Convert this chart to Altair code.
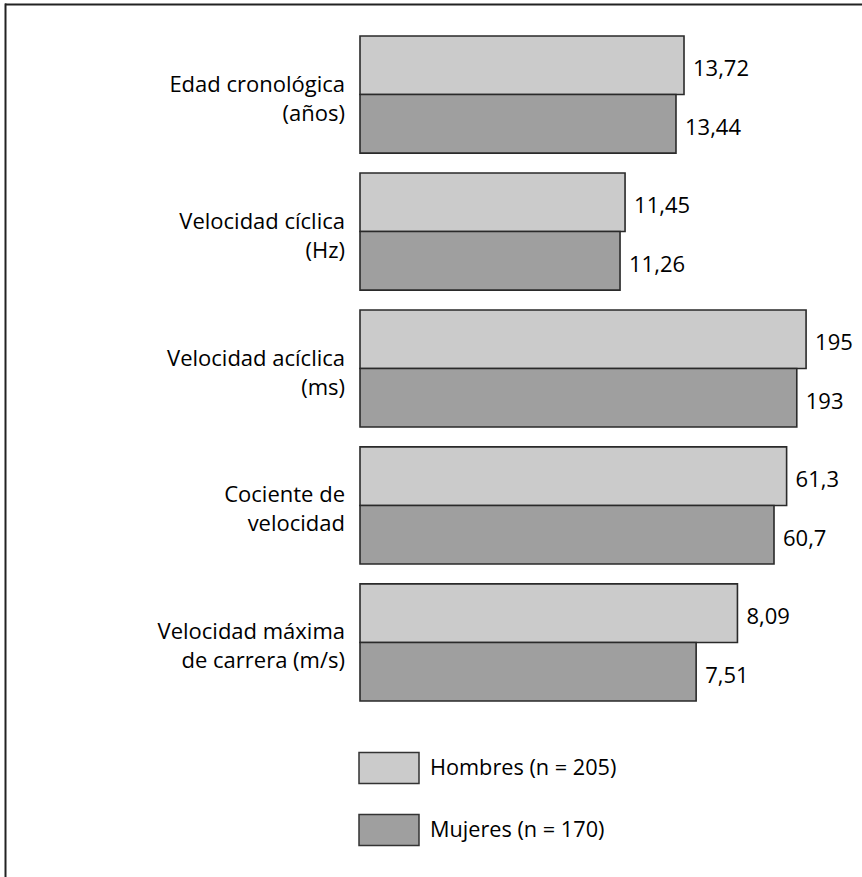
import altair as alt
import pandas as pd

# Measures compared between boys and girls
categories = [
    "Edad cronológica\n(años)",
    "Velocidad cíclica\n(Hz)",
    "Velocidad acíclica\n(ms)",
    "Cociente de\nvelocidad",
    "Velocidad máxima\nde carrera (m/s)",
]
series = ["Hombres (n = 205)", "Mujeres (n = 170)"]
hombres = [13.72, 11.45, 195, 61.3, 8.09]
mujeres = [13.44, 11.26, 193, 60.7, 7.51]

# Each measure is drawn on its own horizontal scale
x_domains = [
    [2.4, 19.17],
    [1.4, 19.6],
    [99, 202.3],
    [41, 63.84],
    [2.79, 9.53],
]

colors = ["#cbcbcb", "#9f9f9f"]
FONT = "Open Sans"
TEXT_COLOR = "#000"

rows = []
for cat, h, m in zip(categories, hombres, mujeres):
    rows.append({"cat": cat, "serie": series[0], "value": h})
    rows.append({"cat": cat, "serie": series[1], "value": m})
df = pd.DataFrame(rows)

y_enc = alt.Y(
    "cat:N",
    sort=categories,
    scale=alt.Scale(domain=categories, paddingInner=0.145, paddingOuter=0),
    axis=None,
)
yoff_enc = alt.YOffset(
    "serie:N", sort=series, scale=alt.Scale(domain=series, paddingInner=0, paddingOuter=0)
)
color_enc = alt.Color(
    "serie:N",
    sort=series,
    scale=alt.Scale(domain=series, range=colors),
    legend=alt.Legend(
        title=None,
        orient="none",
        legendX=-2,
        legendY=701,
        symbolType="M-1,-0.52H1V0.52H-1Z",
        symbolSize=3600,
        symbolStrokeColor="#333",
        symbolStrokeWidth=1.5,
        symbolOpacity=1,
        labelFont=FONT,
        labelFontSize=21.7,
        labelColor=TEXT_COLOR,
        labelOffset=10,
        labelLimit=400,
        rowPadding=12,
    ),
)


def measure_layer(cat, dom):
    x_enc = alt.X(
        "value:Q",
        scale=alt.Scale(domain=dom, zero=False, nice=False),
        axis=None,
    )
    bars = alt.Chart().mark_bar(stroke="#2a2a2a", strokeWidth=1.6, opacity=1).encode(
        x=x_enc,
        x2=alt.datum(dom[0]),
        y=y_enc,
        yOffset=yoff_enc,
        color=color_enc,
    )
    labels = alt.Chart().mark_text(
        align="left", baseline="middle", dx=9, dy=4, font=FONT, fontSize=22,
        color=TEXT_COLOR,
    ).transform_calculate(
        label="replace(toString(datum.value), '.', ',')"
    ).encode(
        x=x_enc,
        y=y_enc,
        yOffset=yoff_enc,
        text="label:N",
    )
    return alt.layer(bars, labels, data=df).transform_filter(
        alt.datum.cat == cat
    )


layers = [measure_layer(c, d) for c, d in zip(categories, x_domains)]

# Category names at the left of each pair of bars
cat_labels = alt.Chart(pd.DataFrame({"cat": categories})).mark_text(
    align="right",
    baseline="middle",
    lineBreak="\n",
    lineHeight=29,
    dy=-10,
    font=FONT,
    fontSize=22,
    color=TEXT_COLOR,
).encode(x=alt.value(-15), y=y_enc, text="cat:N")

# Page frame: top and left edges
frame_top = alt.Chart(pd.DataFrame({"k": [0]})).mark_rule(
    color="#222", strokeWidth=2
).encode(x=alt.value(-355), x2=alt.value(520), y=alt.value(-31.5))
frame_left = alt.Chart(pd.DataFrame({"k": [0]})).mark_rule(
    color="#222", strokeWidth=2
).encode(x=alt.value(-354.5), y=alt.value(-32.5), y2=alt.value(860))

chart = (
    alt.layer(*layers, cat_labels, frame_top, frame_left)
    .resolve_scale(x="independent")
    .properties(
        width=480,
        height=665,
        padding={"left": 360, "top": 36, "right": 22, "bottom": 176},
        autosize=alt.AutoSizeParams(type="none"),
        background="white",
    )
    .configure_view(stroke=None)
)

chart.save("out.html", embed_options={"renderer": "svg", "actions": False})
